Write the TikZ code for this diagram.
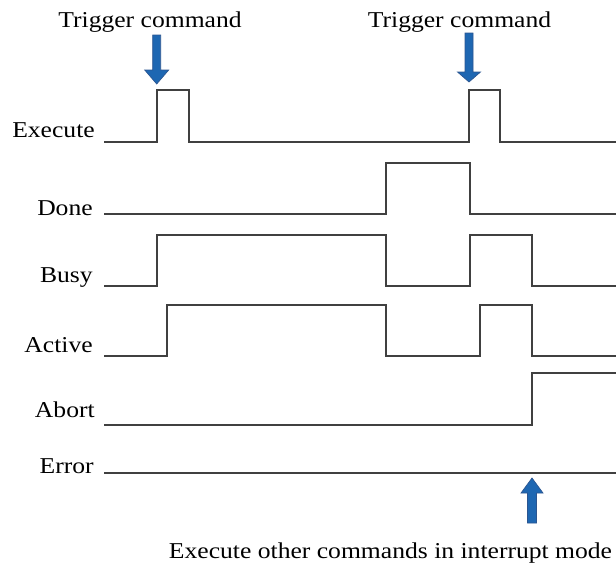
\documentclass[tikz,border=0pt]{standalone}
\usepackage{fontspec}
\setmainfont{Liberation Serif}[FakeStretch=1.13]
\definecolor{sig}{HTML}{404040}
\definecolor{arrfill}{HTML}{1E67B2}
\definecolor{arrline}{HTML}{2B5590}
\begin{document}
\begin{tikzpicture}[x=0.75pt,y=-0.75pt,
  signal/.style={draw=sig,line width=1.7pt,line join=miter,line cap=butt},
  lbl/.style={anchor=base east,inner sep=0pt,font=\fontsize{17}{20}\selectfont},
  note/.style={anchor=base,inner sep=0pt,font=\fontsize{17}{20}\selectfont},
  blockarrow/.style={fill=arrfill,draw=arrline,line width=0.5pt,line join=miter}]
\useasboundingbox (0,0) rectangle (616,565);
% labels
\node[lbl] (lexec) at (95,137) {Execute};
\node[lbl] (ldone) at (93,215) {Done};
\node[lbl] (lbusy) at (93,282) {Busy};
\node[lbl] (lact) at (93,352) {Active};
\node[lbl] (labort) at (95,417) {Abort};
\node[lbl] (lerr) at (94,473) {Error};
\node[note] (trig1) at (150,27) {Trigger command};
\node[note] (trig2) at (459.5,27) {Trigger command};
\node[note] (intr) at (390.5,558) {Execute other commands in interrupt mode};
% signals
\draw[signal] (104,142) -- (157,142) -- (157,90) -- (189,90) -- (189,142)
  -- (469,142) -- (469,90) -- (500,90) -- (500,142) -- (616,142);
\draw[signal] (104,214) -- (386,214) -- (386,163) -- (470,163) -- (470,214) -- (616,214);
\draw[signal] (104,286) -- (157,286) -- (157,235) -- (386,235) -- (386,286)
  -- (470,286) -- (470,235) -- (532,235) -- (532,286) -- (616,286);
\draw[signal] (104,356) -- (167,356) -- (167,305) -- (386,305) -- (386,356)
  -- (480,356) -- (480,305) -- (532,305) -- (532,356) -- (616,356);
\draw[signal] (104,425) -- (532,425) -- (532,373) -- (616,373);
\draw[signal] (104,473) -- (616,473);
% block arrows
\draw[blockarrow] (152.7,35) -- (160.7,35) -- (160.7,70) -- (168.7,70) -- (156.7,84)
  -- (144.7,70) -- (152.7,70) -- cycle;
\draw[blockarrow] (465,33) -- (473,33) -- (473,72) -- (480.5,72) -- (469,82)
  -- (457.5,72) -- (465,72) -- cycle;
\draw[blockarrow] (527.5,523) -- (536.5,523) -- (536.5,493) -- (543,493) -- (532,478)
  -- (521,493) -- (527.5,493) -- cycle;
\end{tikzpicture}
\end{document}
